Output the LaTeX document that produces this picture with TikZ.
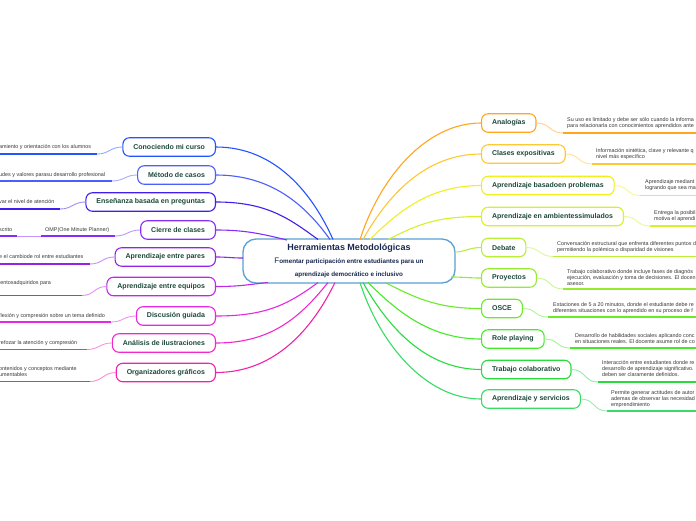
\documentclass[tikz,border=0pt]{standalone}
\usepackage{fontspec}
\setmainfont{Liberation Sans}
\definecolor{nodetext}{RGB}{28,72,58}
\definecolor{desctext}{RGB}{55,55,55}
\definecolor{centerblue}{RGB}{90,160,215}
\definecolor{titlenavy}{RGB}{25,40,80}
\definecolor{L1}{RGB}{35,85,255}
\definecolor{L2}{RGB}{75,95,250}
\definecolor{L3}{RGB}{65,30,235}
\definecolor{L4}{RGB}{135,45,250}
\definecolor{L5}{RGB}{150,35,225}
\definecolor{L6}{RGB}{190,40,230}
\definecolor{L7}{RGB}{230,40,225}
\definecolor{L8}{RGB}{240,40,205}
\definecolor{L9}{RGB}{240,35,170}
\definecolor{R1}{RGB}{255,165,30}
\definecolor{R2}{RGB}{255,200,50}
\definecolor{R3}{RGB}{240,240,30}
\definecolor{R4}{RGB}{215,240,40}
\definecolor{R5}{RGB}{185,240,55}
\definecolor{R6}{RGB}{150,235,50}
\definecolor{R7}{RGB}{105,235,40}
\definecolor{R8}{RGB}{70,235,40}
\definecolor{R9}{RGB}{40,220,60}
\definecolor{R10}{RGB}{55,220,100}
\tikzset{
  topic/.style={draw=#1, line width=1.1pt, rounded corners=6.5pt, fill=white,
    minimum height=18.5pt, inner xsep=10.5pt, inner ysep=0pt,
    font=\fontsize{7}{8}\selectfont\bfseries, text=nodetext},
  desc/.style={inner sep=0pt, align=left, font=\fontsize{5.4}{6.2}\selectfont, text=desctext},
  uline/.style={draw=#1, line width=1.8pt},
  link/.style={draw=#1!50, line width=0.9pt},
  branch/.style={draw=#1, line width=1.1pt},
  centre/.style={draw=centerblue, line width=1.3pt, rounded corners=13pt, fill=white,
    minimum width=212pt, minimum height=44pt, inner sep=0pt, align=center, text=titlenavy}
}
\begin{document}
\begin{tikzpicture}[x=1pt,y=-1pt]
\clip (0,0) rectangle (696,520);
\fill[white] (0,0) rectangle (696,520);

% ---------- centre ----------
\node[centre] (c) at (349,261)
  {{\fontsize{9}{10}\selectfont\bfseries Herramientas Metodológicas}\\[1.2pt]
   {\fontsize{8}{8}\selectfont F}{\fontsize{6.3}{7}\selectfont\bfseries omentar participación entre estudiantes para un}\\[0.6pt]
   {\fontsize{6.3}{7}\selectfont\bfseries aprendizaje democrático e inclusivo}};

% ---------- left topics ----------
\node[topic=L1, anchor=east] (l1) at (216,147) {Conociendo mi curso};
\node[topic=L2, anchor=east] (l2) at (216,175) {Método de casos};
\node[topic=L3, anchor=east] (l3) at (216,202) {Enseñanza basada en preguntas};
\node[topic=L4, anchor=east] (l4) at (216,230) {Cierre de clases};
\node[topic=L5, anchor=east] (l5) at (216,257) {Aprendizaje entre pares};
\node[topic=L6, anchor=east] (l6) at (216,286.5) {Aprendizaje entre equipos};
\node[topic=L7, anchor=east] (l7) at (216,316) {Discusión guiada};
\node[topic=L8, anchor=east] (l8) at (216,343) {Análisis de ilustraciones};
\node[topic=L9, anchor=east] (l9) at (216,372.5) {Organizadores gráficos};

% attach points on the centre
\coordinate (cl1) at (333,239.5);
\coordinate (cl2) at (330,239.5);
\coordinate (cl3) at (318,239.5);
\coordinate (cl4) at (287,240);
\coordinate (cl5) at (243,258);
\coordinate (cl6) at (268,282.5);
\coordinate (cl7) at (318,282.5);
\coordinate (cl8) at (328,282.5);
\coordinate (cl9) at (335,282.5);

\draw[branch=L1] (l1.east) .. controls +(60,0) and +(-20,-45) .. (cl1);
\draw[branch=L2] (l2.east) .. controls +(55,0) and +(-25,-35) .. (cl2);
\draw[branch=L3] (l3.east) .. controls +(50,0) and +(-30,-22) .. (cl3);
\draw[branch=L4] (l4.east) .. controls +(30,0) and +(-25,-6) .. (cl4);
\draw[branch=L5] (l5.east) .. controls +(12,0) and +(-12,0) .. (cl5);
\draw[branch=L6] (l6.east) .. controls +(25,0) and +(-20,2) .. (cl6);
\draw[branch=L7] (l7.east) .. controls +(50,0) and +(-30,22) .. (cl7);
\draw[branch=L8] (l8.east) .. controls +(55,0) and +(-28,35) .. (cl8);
\draw[branch=L9] (l9.east) .. controls +(60,0) and +(-22,45) .. (cl9);

% ---------- left descriptions ----------
\node[desc, anchor=north west] (d1) at (-1,144.2) {amiento y orientación con los alumnos};
\coordinate (u1a) at (-5,154); \coordinate (u1b) at (97,154);
\draw[uline=L1] (u1a) -- (u1b);
\draw[link=L1] (u1b) .. controls +(12,0) and +(-12,0) .. (l1.west);

\node[desc, anchor=north west] (d2) at (-1,172.2) {udes y valores parasu desarrollo profesional};
\coordinate (u2a) at (-5,181); \coordinate (u2b) at (112,181);
\draw[uline=L2] (u2a) -- (u2b);
\draw[link=L2] (u2b) .. controls +(12,0) and +(-12,0) .. (l2.west);

\node[desc, anchor=north west] (d3) at (-1,199.2) {var el nivel de atención};
\coordinate (u3a) at (-5,209); \coordinate (u3b) at (60,209);
\draw[uline=L3] (u3a) -- (u3b);
\draw[link=L3] (u3b) .. controls +(12,0) and +(-12,0) .. (l3.west);

\node[desc, anchor=north west] (d4) at (45,227.2) {OMP(One Minute Planner)};
\coordinate (u4a) at (41,236); \coordinate (u4b) at (115,236);
\draw[uline=L4] (u4a) -- (u4b);
\draw[link=L4] (u4b) .. controls +(12,0) and +(-12,0) .. (l4.west);
\node[desc, anchor=north west] (d4s) at (-1,227.2) {scrito};
\coordinate (u4c) at (-5,236); \coordinate (u4d) at (17,236);
\draw[uline=L4] (u4c) -- (u4d);
\draw[link=L4] (u4d) -- (u4a);

\node[desc, anchor=north west] (d5) at (-1,254.2) {e el cambiode rol entre estudiantes};
\coordinate (u5a) at (-5,264); \coordinate (u5b) at (90,264);
\draw[uline=L5] (u5a) -- (u5b);
\draw[link=L5] (u5b) .. controls +(12,0) and +(-12,0) .. (l5.west);

\node[desc, anchor=north west] (d6) at (-1,280.2) {ientosadquiridos para};
\coordinate (u6a) at (-5,295.5); \coordinate (u6b) at (82,295.5);
\draw[uline=L6] (u6a) -- (u6b);
\draw[link=L6] (u6b) .. controls +(12,0) and +(-12,0) .. (l6.west);

\node[desc, anchor=north west] (d7) at (-1,313.2) {flexión y compresión sobre un tema definido};
\coordinate (u7a) at (-5,322); \coordinate (u7b) at (111,322);
\draw[uline=L7] (u7a) -- (u7b);
\draw[link=L7] (u7b) .. controls +(12,0) and +(-12,0) .. (l7.west);

\node[desc, anchor=north west] (d8) at (-1,340.2) {refozar la atención y compresión};
\coordinate (u8a) at (-5,349.5); \coordinate (u8b) at (87,349.5);
\draw[uline=L8] (u8a) -- (u8b);
\draw[link=L8] (u8b) .. controls +(12,0) and +(-12,0) .. (l8.west);

\node[desc, anchor=north west] (d9) at (-1,366.2) {ontenidos y conceptos mediante\\umentables};
\coordinate (u9a) at (-5,381.5); \coordinate (u9b) at (90,381.5);
\draw[uline=L9] (u9a) -- (u9b);
\draw[link=L9] (u9b) .. controls +(12,0) and +(-12,0) .. (l9.west);

% ---------- right topics ----------
\node[topic=R1, anchor=west] (r1) at (481,123) {Analogías};
\node[topic=R2, anchor=west] (r2) at (481,154) {Clases expositivas};
\node[topic=R3, anchor=west] (r3) at (481,185.5) {Aprendizaje basadoen problemas};
\node[topic=R4, anchor=west] (r4) at (481,216.5) {Aprendizaje en ambientessimulados};
\node[topic=R5, anchor=west] (r5) at (481,247.5) {Debate};
\node[topic=R6, anchor=west] (r6) at (481,278) {Proyectos};
\node[topic=R7, anchor=west] (r7) at (481,308.5) {OSCE};
\node[topic=R8, anchor=west] (r8) at (481,339) {Role playing};
\node[topic=R9, anchor=west] (r9) at (481,369.5) {Trabajo colaborativo};
\node[topic=R10, anchor=west] (r10) at (481,399) {Aprendizaje y servicios};

\coordinate (cr1) at (360,239.5);
\coordinate (cr2) at (363,239.5);
\coordinate (cr3) at (370,239.5);
\coordinate (cr4) at (388,239.5);
\coordinate (cr5) at (455,252);
\coordinate (cr6) at (451,277);
\coordinate (cr7) at (385,282.5);
\coordinate (cr8) at (368,282.5);
\coordinate (cr9) at (363,282.5);
\coordinate (cr10) at (360,282.5);

\draw[branch=R1] (cr1) .. controls +(20,-62) and +(-55,0) .. (r1.west);
\draw[branch=R2] (cr2) .. controls +(25,-45) and +(-55,0) .. (r2.west);
\draw[branch=R3] (cr3) .. controls +(30,-30) and +(-50,0) .. (r3.west);
\draw[branch=R4] (cr4) .. controls +(30,-15) and +(-45,0) .. (r4.west);
\draw[branch=R5] (cr5) .. controls +(10,0) and +(-12,0) .. (r5.west);
\draw[branch=R6] (cr6) .. controls +(12,0) and +(-12,0) .. (r6.west);
\draw[branch=R7] (cr7) .. controls +(30,15) and +(-45,0) .. (r7.west);
\draw[branch=R8] (cr8) .. controls +(30,30) and +(-50,0) .. (r8.west);
\draw[branch=R9] (cr9) .. controls +(25,45) and +(-55,0) .. (r9.west);
\draw[branch=R10] (cr10) .. controls +(20,62) and +(-55,0) .. (r10.west);

% ---------- right descriptions ----------
\node[desc, anchor=north west] (e1) at (567,116.9) {Su uso es limitado y debe ser sólo cuando la informa\\para relacionarla con conocimientos aprendidos ante};
\coordinate (v1a) at (563,133); \coordinate (v1b) at (700,133);
\draw[uline=R1] (v1a) -- (v1b);
\draw[link=R1] (r1.east) .. controls +(14,0) and +(-14,0) .. (v1a);

\node[desc, anchor=north west] (e2) at (596,148.4) {Información sintética, clave y relevante q\\nivel más específico};
\coordinate (v2a) at (592,164); \coordinate (v2b) at (700,164);
\draw[uline=R2] (v2a) -- (v2b);
\draw[link=R2] (r2.east) .. controls +(14,0) and +(-14,0) .. (v2a);

\node[desc, anchor=north west] (e3) at (645,179.4) {Aprendizaje mediant\\logrando que sea ma};
\coordinate (v3a) at (640,195.5); \coordinate (v3b) at (700,195.5);
\draw[uline=R3] (v3a) -- (v3b);
\draw[link=R3] (r3.east) .. controls +(14,0) and +(-14,0) .. (v3a);

\node[desc, anchor=north west] (e4) at (654,210.4) {Entrega la posibil\\motiva el aprendi};
\coordinate (v4a) at (650,226); \coordinate (v4b) at (700,226);
\draw[uline=R4] (v4a) -- (v4b);
\draw[link=R4] (r4.east) .. controls +(14,0) and +(-14,0) .. (v4a);

\node[desc, anchor=north west] (e5) at (557,241.4) {Conversación estructural que enfrenta diferentes puntos d\\permitiendo la polémica o disparidad de visiones};
\coordinate (v5a) at (553,256.5); \coordinate (v5b) at (700,256.5);
\draw[uline=R5] (v5a) -- (v5b);
\draw[link=R5] (r5.east) .. controls +(14,0) and +(-14,0) .. (v5a);

\node[desc, anchor=north west] (e6) at (567,269.4) {Trabajo colaborativo donde incluye fases de diagnós\\ejecución, evaluación y toma de decisiones. El docen\\asesor.};
\coordinate (v6a) at (563,289); \coordinate (v6b) at (700,289);
\draw[uline=R6] (v6a) -- (v6b);
\draw[link=R6] (r6.east) .. controls +(14,0) and +(-14,0) .. (v6a);

\node[desc, anchor=north west] (e7) at (553,302.4) {Estaciones de 5 a 20 minutos, donde el estudiante debe re\\diferentes situaciones con lo aprendido en su proceso de f};
\coordinate (v7a) at (548,317); \coordinate (v7b) at (700,317);
\draw[uline=R7] (v7a) -- (v7b);
\draw[link=R7] (r7.east) .. controls +(14,0) and +(-14,0) .. (v7a);

\node[desc, anchor=north west] (e8) at (575,333.4) {Desarrollo de habilidades sociales aplicando conc\\en situaciones reales. El docente asume rol de co};
\coordinate (v8a) at (570,348); \coordinate (v8b) at (700,348);
\draw[uline=R8] (v8a) -- (v8b);
\draw[link=R8] (r8.east) .. controls +(14,0) and +(-14,0) .. (v8a);

\node[desc, anchor=north west] (e9) at (602,360.4) {Interacción entre estudiantes donde re\\desarrollo de aprendizaje significativo.\\deben ser claramente definidos.};
\coordinate (v9a) at (598,382); \coordinate (v9b) at (700,382);
\draw[uline=R9] (v9a) -- (v9b);
\draw[link=R9] (r9.east) .. controls +(14,0) and +(-14,0) .. (v9a);

\node[desc, anchor=north west] (e10) at (611,390.4) {Permite generar actitudes de autor\\ademas de observar las necesidad\\emprendimiento};
\coordinate (v10a) at (607,411); \coordinate (v10b) at (700,411);
\draw[uline=R10] (v10a) -- (v10b);
\draw[link=R10] (r10.east) .. controls +(14,0) and +(-14,0) .. (v10a);
\end{tikzpicture}
\end{document}
